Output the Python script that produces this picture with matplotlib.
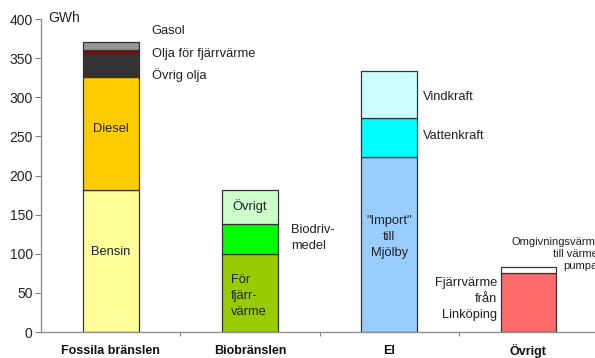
import numpy as np
import matplotlib.pyplot as plt

plt.rcParams['font.family'] = ['Liberation Sans', 'DejaVu Sans']

categories = ["Fossila bränslen", "Biobränslen", "El", "Övrigt"]

# GWh per delpost, nerifrån och upp
fossil_parts = ["Bensin", "Diesel", "Övrig olja", "Olja för fjärrvärme", "Gasol"]
fossil_gwh = [181, 145, 29, 6, 10]
bio_parts = ["För fjärrvärme", "Biodrivmedel", "Övrigt"]
bio_gwh = [100, 38, 44]
el_parts = ["Import till Mjölby", "Vattenkraft", "Vindkraft"]
el_gwh = [224, 49, 61]
other_parts = ["Fjärrvärme från Linköping", "Omgivningsvärme till värmepumpar"]
other_gwh = [75, 8]

stacks = [fossil_gwh, bio_gwh, el_gwh, other_gwh]
colors = [
    ["#FFFF99", "#FFCC00", "#333333", "#990000", "#969696"],
    ["#99CC00", "#00FF00", "#CCFFCC"],
    ["#99CCFF", "#00FFFF", "#CCFFFF"],
    ["#FF6B6B", "#FFFFFF"],
]

fig = plt.figure(figsize=(5.95, 3.58), dpi=100)
ax = fig.add_axes([0.069, 0.0726, 0.936, 0.874])

x = np.arange(len(categories))
width = 0.4
for i, vals in enumerate(stacks):
    bottom = 0
    for v, c in zip(vals, colors[i]):
        ax.bar(x[i], v, width, bottom=bottom, color=c, edgecolor="#333333",
               linewidth=0.9, zorder=2)
        bottom += v

ax.set_xlim(-0.5, 3.5)
ax.set_ylim(0, 400)
ax.set_yticks(range(0, 401, 50))
ax.set_xticks([0.5, 1.5, 2.5])
ax.set_xticklabels([])
ax.tick_params(axis="y", labelsize=10, colors="#808080", labelcolor="#222222",
               length=4, width=0.8, pad=2)
ax.tick_params(axis="x", length=3, width=0.8, colors="#808080")
for s in ["top", "right"]:
    ax.spines[s].set_visible(False)
for s in ["left", "bottom"]:
    ax.spines[s].set_color("#909090")
    ax.spines[s].set_linewidth(1)

for xi, name in zip(x, categories):
    ax.text(xi, -24, name, ha="center", va="center", fontsize=9,
            fontweight="bold", color="#111111")

ax.text(-0.45, 401, "GWh", ha="left", va="center", fontsize=10, color="#222222")

tk = dict(fontsize=9.3, color="#222222", linespacing=1.45)
# etiketter inne i staplarna
ax.text(0, 259, "Diesel", ha="center", va="center", **tk)
ax.text(0, 102, "Bensin", ha="center", va="center", **tk)
ax.text(1, 161, "Övrigt", ha="center", va="center", **tk)
ax.text(0.99, 46, "För\nfjärr-\nvärme", ha="center", va="center",
        multialignment="left", **tk)
ax.text(2, 121, "\"Import\"\ntill\nMjölby", ha="center", va="center", **tk)

# etiketter bredvid staplarna
ax.text(0.295, 385, "Gasol", ha="left", va="center", **tk)
ax.text(0.295, 356, "Olja för fjärrvärme", ha="left", va="center", **tk)
ax.text(0.295, 328, "Övrig olja", ha="left", va="center", **tk)
ax.text(1.295, 120, "Biodriv-\nmedel", ha="left", va="center", **tk)
ax.text(2.245, 300, "Vindkraft", ha="left", va="center", **tk)
ax.text(2.245, 250, "Vattenkraft", ha="left", va="center", **tk)
ax.text(2.775, 42, "Fjärrvärme\nfrån\nLinköping", ha="right", va="center",
        multialignment="right", **tk)
ax.text(3.525, 100, "Omgivningsvärme\ntill värme-\npumpar", ha="right",
        va="center", multialignment="right", fontsize=8, color="#222222",
        linespacing=1.25)

fig.savefig("out.png", dpi=100)
